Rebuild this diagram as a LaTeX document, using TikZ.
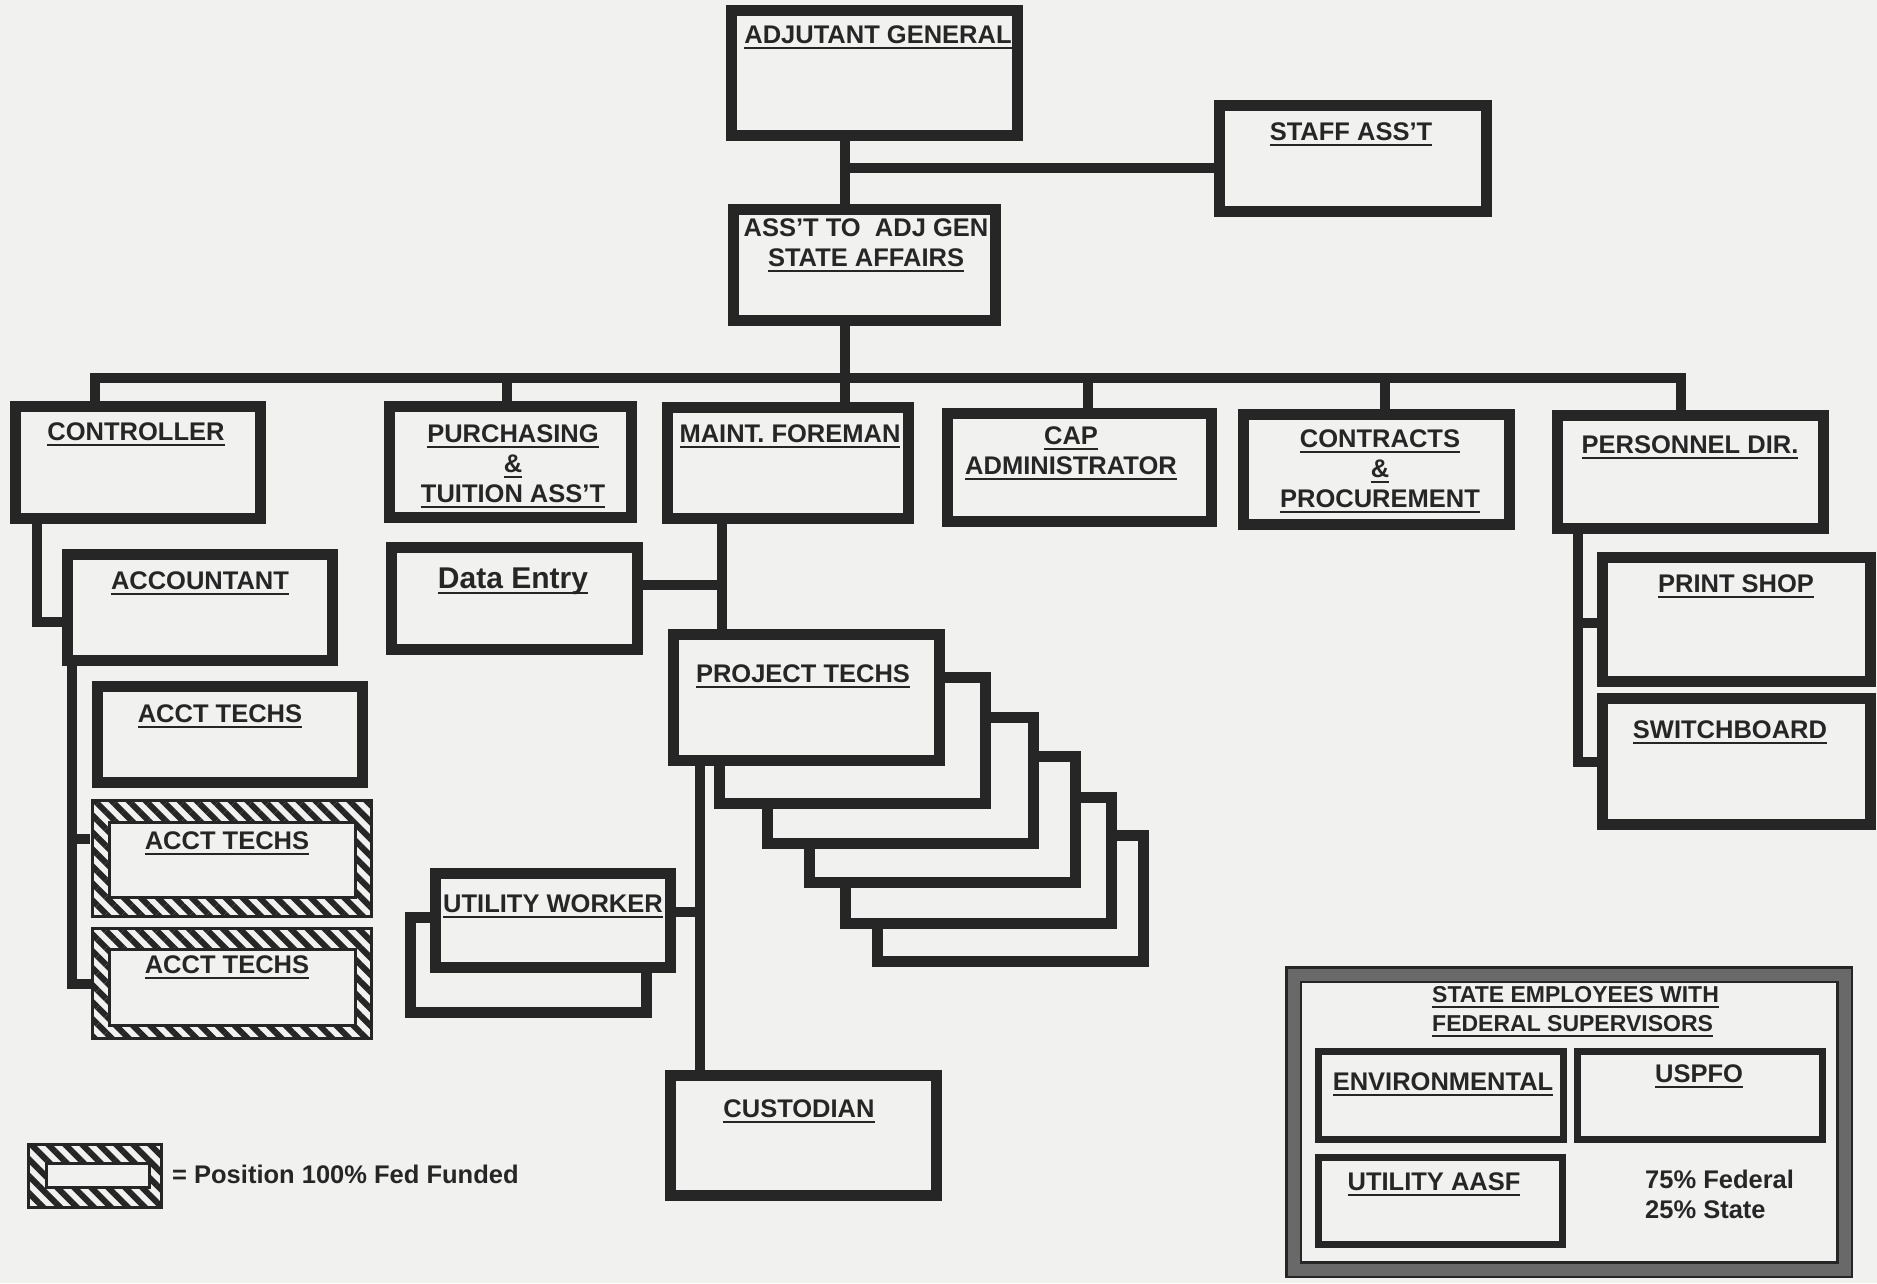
\documentclass[tikz,border=0pt]{standalone}
\usepackage{fontspec}
\setmainfont{Liberation Sans}
\usepackage{xcolor}
\usepackage{tikz}
\usetikzlibrary{patterns.meta}
\definecolor{ink}{RGB}{38,38,38}
\definecolor{paper}{RGB}{241,241,239}
\definecolor{band}{RGB}{105,105,105}
\newsavebox{\ulbox}
\newcommand{\ulin}[1]{\sbox{\ulbox}{#1}\makebox[0pt][l]{\rule[-6pt]{\wd\ulbox}{2.5pt}}\usebox{\ulbox}}
\newcommand{\boxfont}{\fontsize{25.5}{30}\selectfont\bfseries}

\begin{document}
\begin{tikzpicture}[
    x=1pt, y=-1pt,
    post/.style={rectangle,draw=ink,fill=paper,line width=11pt,inner sep=0pt},
    subpost/.style={rectangle,draw=ink,fill=paper,line width=7pt,inner sep=0pt},
    fedpost/.style={rectangle,draw=ink,line width=3pt,inner sep=0pt,
        pattern={Lines[angle=-45,distance=12pt,line width=6pt]},pattern color=ink},
    fedcore/.style={rectangle,draw=ink,fill=paper,line width=3pt,inner sep=0pt},
    frame/.style={rectangle,draw=ink,line width=2.5pt,double=band,double distance=12pt,fill=paper,inner sep=0pt},
    wire/.style={draw=ink,line width=10pt},
    head/.style={font=\boxfont,text=ink,inner sep=0pt,anchor=base},
    headm/.style={font=\boxfont,text=ink,inner sep=0pt,anchor=north,align=center}
]
\useasboundingbox (0,0) rectangle (1877,1283);
\fill[paper] (0,0) rectangle (1877,1283);

\node[post,minimum width=286,minimum height=125] (adj) at (874.5,73) {};
\node[post,minimum width=267,minimum height=106] (staff) at (1353,158.5) {};
\node[post,minimum width=262,minimum height=111] (asst) at (864.5,265) {};
\node[post,minimum width=245,minimum height=112] (ctrl) at (138,462.5) {};
\node[post,minimum width=242,minimum height=111] (purch) at (510.5,462) {};
\node[post,minimum width=241,minimum height=111] (maint) at (788,463) {};
\node[post,minimum width=264,minimum height=108] (cap) at (1079.5,467.5) {};
\node[post,minimum width=266,minimum height=110] (contr) at (1376.5,469.5) {};
\node[post,minimum width=266,minimum height=113] (pers) at (1690.5,472) {};
\node[post,minimum width=265,minimum height=106] (acct) at (200,607.5) {};
\node[post,minimum width=246,minimum height=102] (data) at (514.5,598.5) {};
\node[post,minimum width=265,minimum height=96] (techs) at (230,734.5) {};
\node[fedpost,minimum width=279,minimum height=116] (fed1) at (232,858.5) {};
\node[fedcore,minimum width=246,minimum height=75] (fed1in) at (232.5,860) {};
\node[fedpost,minimum width=279,minimum height=110] (fed2) at (232,983.5) {};
\node[fedcore,minimum width=246,minimum height=76] (fed2in) at (232.5,987.5) {};
\node[post,minimum width=268,minimum height=124] (print) at (1736.5,619.5) {};
\node[post,minimum width=268,minimum height=126] (switch) at (1736.5,761.5) {};
\foreach \k/\dx/\dy in {6/204/201,5/172/163,4/136/122,3/94/83,2/46/43}
  \node[post,minimum width=266,minimum height=126] (projt\k) at ({806.5+\dx},{697.5+\dy}) {};
\node[post,minimum width=266,minimum height=126] (projt) at (806.5,697.5) {};
\node[post,minimum width=236,minimum height=95] (utilwb) at (528.5,965) {};
\node[post,minimum width=235,minimum height=94] (utilw) at (553,920.5) {};
\node[post,minimum width=266,minimum height=120] (cust) at (803.5,1135.5) {};
\node[fedpost,minimum width=133,minimum height=63] (leg) at (95,1176) {};
\node[fedcore,minimum width=103,minimum height=24] (legin) at (98,1175.5) {};
\node[frame,minimum width=551,minimum height=295] (fedsup) at (1569,1122) {};
\node[subpost,minimum width=245,minimum height=88] (env) at (1441,1095.5) {};
\node[subpost,minimum width=245,minimum height=88] (uspfo) at (1700,1095.5) {};
\node[subpost,minimum width=244,minimum height=87] (aasf) at (1440.5,1201) {};

\coordinate (trunk) at (845,168);
\coordinate (busl) at (95,378);
\coordinate (busr) at (1681,378);
\coordinate (purchd) at (507,378);
\coordinate (capd) at (1088,378);
\coordinate (contrd) at (1385,378);
\coordinate (ctrlv) at (37,622);
\coordinate (acctv) at (72,839);
\coordinate (maintv) at (722,585);
\coordinate (projv) at (700,912);
\coordinate (persv) at (1578,623);

\draw[wire] (adj.south -| trunk) -- (asst.north -| trunk);
\draw[wire] (trunk) -- (staff.west |- trunk);
\draw[wire] (asst.south -| trunk) -- (maint.north -| trunk);
\draw[wire] (ctrl.north -| busl) -- (busl) -- (busr) -- (pers.north -| busr);
\draw[wire] (purchd) -- (purch.north -| purchd);
\draw[wire] (capd) -- (cap.north -| capd);
\draw[wire] (contrd) -- (contr.north -| contrd);
\draw[wire] (ctrl.south -| ctrlv) -- (ctrlv) -- (acct.west |- ctrlv);
\draw[wire] (acct.south -| acctv) |- (fed2.west);
\draw[wire] (acctv) -- (fed1.west |- acctv);
\draw[wire] (maint.south -| maintv) -- (projt.north -| maintv);
\draw[wire] (data.east |- maintv) -- (maintv);
\draw[wire] (projt.south -| projv) -- (cust.north -| projv);
\draw[wire] (utilw.east |- projv) -- (projv);
\draw[wire] (pers.south -| persv) |- (switch.west);
\draw[wire] (persv) -- (print.west |- persv);

\node[head] (adjl) at (878,43) {\ulin{ADJUTANT GENERAL}};
\node[head] (staffl) at (1351,140) {\ulin{STAFF ASS'T}};
\node[headm] (asstl) at (866,218.4) {ASS'T TO\ \ ADJ GEN\\\ulin{STATE AFFAIRS}};
\node[head] (ctrll) at (136,440) {\ulin{CONTROLLER}};
\node[headm] (purchl) at (513,424.4) {\ulin{PURCHASING}\\\ulin{\&}\\\ulin{TUITION ASS'T}};
\node[head] (maintl) at (790,442) {\ulin{MAINT. FOREMAN}};
\node[headm] (capl) at (1071,426) {\ulin{CAP}\\\ulin{ADMINISTRATOR}};
\node[headm] (contrl) at (1380,429) {\ulin{CONTRACTS}\\\ulin{\&}\\\ulin{PROCUREMENT}};
\node[head] (persl) at (1690,453) {\ulin{PERSONNEL DIR.}};
\node[head] (acctl) at (200,589) {\ulin{ACCOUNTANT}};
\node[head,font=\fontsize{30}{36}\selectfont\bfseries] (datal) at (513,588) {\ulin{Data Entry}};
\node[head] (techsl) at (220,722) {\ulin{ACCT TECHS}};
\node[head] (fed1l) at (227,849) {\ulin{ACCT TECHS}};
\node[head] (fed2l) at (227,973) {\ulin{ACCT TECHS}};
\node[head] (printl) at (1736,592) {\ulin{PRINT SHOP}};
\node[head] (switchl) at (1730,738) {\ulin{SWITCHBOARD}};
\node[head] (projtl) at (803,682) {\ulin{PROJECT TECHS}};
\node[head] (utilwl) at (553,912) {\ulin{UTILITY WORKER}};
\node[head] (custl) at (799,1117) {\ulin{CUSTODIAN}};
\node[head,anchor=base west] (legl) at (172,1183) {= Position 100\% Fed Funded};
\node[headm,anchor=north west,align=left,font=\fontsize{23}{29}\selectfont\bfseries] (fedsupl) at (1432,986.2) {\ulin{STATE EMPLOYEES WITH}\\\ulin{FEDERAL SUPERVISORS}};
\node[head] (envl) at (1443,1090) {\ulin{ENVIRONMENTAL}};
\node[head] (uspfol) at (1699,1082) {\ulin{USPFO}};
\node[head] (aasfl) at (1434,1190) {\ulin{UTILITY AASF}};
\node[headm,anchor=north west,align=left] (splitl) at (1645,1169.4) {75\% Federal\\25\% State};
\end{tikzpicture}
\end{document}
